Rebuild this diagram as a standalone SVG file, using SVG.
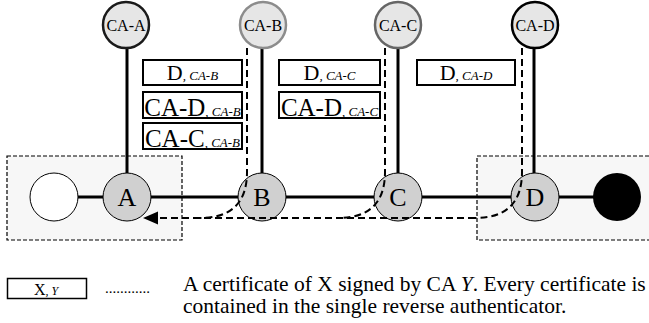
<svg xmlns="http://www.w3.org/2000/svg" width="649" height="323" viewBox="0 0 649 323">
  <style>
    text { font-family: "Liberation Serif", "Times New Roman", serif; fill: #000; }
    .zone { fill: #f7f7f7; stroke: #000; stroke-width: 1.2; stroke-dasharray: 4 2; }
    .link { stroke: #000; stroke-width: 3; fill: none; }
    .path { stroke: #000; stroke-width: 2; fill: none; stroke-dasharray: 7 4; }
    .ca { fill: #e6e6e6; stroke-width: 2.5; }
    .node { fill: #d0d0d0; stroke: #000; stroke-width: 1; }
    .cert { fill: #fff; stroke: #000; stroke-width: 2; }
    .calbl { font-size: 16px; text-anchor: middle; }
    .nlbl { font-size: 26px; text-anchor: middle; }
    .big { font-size: 22px; }
    .big2 { font-size: 25px; }
    .sm { font-size: 13px; font-style: italic; }
    .ctext { text-anchor: middle; }
  </style>

  <!-- domain areas -->
  <rect class="zone" x="7" y="156" width="175" height="84"/>
  <rect class="zone" x="477" y="156" width="180" height="84"/>

  <!-- solid links -->
  <g id="links">
    <line class="link" x1="54" y1="197" x2="617" y2="197"/>
    <line class="link" x1="127" y1="48" x2="127" y2="173"/>
    <line class="link" x1="262" y1="48" x2="262" y2="173"/>
    <line class="link" x1="398" y1="48" x2="398" y2="173"/>
    <line class="link" x1="534" y1="48" x2="534" y2="173"/>
  </g>

  <!-- CA nodes -->
  <g id="ca-a"><circle class="ca" cx="126" cy="25" r="23" stroke="#1a1a1a"/><text class="calbl" x="126" y="31">CA-A</text></g>
  <g id="ca-b"><circle class="ca" cx="263" cy="25" r="23" stroke="#8c8c8c"/><text class="calbl" x="263" y="31">CA-B</text></g>
  <g id="ca-c"><circle class="ca" cx="398" cy="25" r="23" stroke="#666"/><text class="calbl" x="398" y="31">CA-C</text></g>
  <g id="ca-d"><circle class="ca" cx="535" cy="25" r="23" stroke="#000"/><text class="calbl" x="535" y="31">CA-D</text></g>

  <!-- path nodes -->
  <g id="src"><circle cx="54" cy="197" r="24" fill="#fff" stroke="#000" stroke-width="1"/></g>
  <g id="node-a"><circle class="node" cx="127" cy="197" r="24"/><text class="nlbl" x="127" y="206">A</text></g>
  <g id="node-b"><circle class="node" cx="262" cy="197" r="24"/><text class="nlbl" x="262" y="206">B</text></g>
  <g id="node-c"><circle class="node" cx="398" cy="197" r="24"/><text class="nlbl" x="398" y="206">C</text></g>
  <g id="node-d"><circle class="node" cx="535" cy="197" r="24"/><text class="nlbl" x="535" y="206">D</text></g>
  <g id="dst"><circle cx="617" cy="197" r="24" fill="#000"/></g>

  <!-- reverse authenticator paths -->
  <g id="connectors">
    <path class="path" d="M247,48 V172 C247,202 232,218 200,218"/>
    <path class="path" d="M385,48 V172 C385,202 370,218 338,218"/>
    <path class="path" d="M522,48 V172 C522,202 507,218 475,218"/>
    <path class="path" d="M475,218 H156"/>
    <polygon points="143,218 158,211.5 158,224.5" fill="#000"/>
  </g>

  <!-- certificates -->
  <g id="certs-b">
    <rect class="cert" x="143" y="60" width="99" height="25"/>
    <text class="ctext" x="192.5" y="80"><tspan class="big">D</tspan><tspan class="sm">, CA-B</tspan></text>
    <rect class="cert" x="143" y="92" width="99" height="26"/>
    <text class="ctext" x="192.5" y="115.5"><tspan class="big2">CA-D</tspan><tspan class="sm">, CA-B</tspan></text>
    <rect class="cert" x="143" y="123" width="99" height="26"/>
    <text class="ctext" x="192.5" y="146.5"><tspan class="big2">CA-C</tspan><tspan class="sm">, CA-B</tspan></text>
  </g>
  <g id="certs-c">
    <rect class="cert" x="279" y="60" width="101" height="25"/>
    <text class="ctext" x="329.5" y="80"><tspan class="big">D</tspan><tspan class="sm">, CA-C</tspan></text>
    <rect class="cert" x="279" y="92" width="101" height="26"/>
    <text class="ctext" x="329.5" y="115.5"><tspan class="big2">CA-D</tspan><tspan class="sm">, CA-C</tspan></text>
  </g>
  <g id="certs-d">
    <rect class="cert" x="417" y="60" width="98" height="25"/>
    <text class="ctext" x="466" y="80"><tspan class="big">D</tspan><tspan class="sm">, CA-D</tspan></text>
  </g>

  <!-- legend -->
  <g id="legend">
    <rect x="7.5" y="278.5" width="79" height="20" fill="#fff" stroke="#000" stroke-width="1.5"/>
    <text x="46" y="295" text-anchor="middle"><tspan font-size="16">X</tspan><tspan font-size="12" font-style="italic">, Y</tspan></text>
    <text x="105" y="293" font-size="15">............</text>
    <text x="183" y="291" font-size="21.5">A certificate of X signed by CA <tspan font-style="italic">Y</tspan>. Every certificate is</text>
    <text x="183" y="313" font-size="21.5">contained in the single reverse authenticator.</text>
  </g>
</svg>
